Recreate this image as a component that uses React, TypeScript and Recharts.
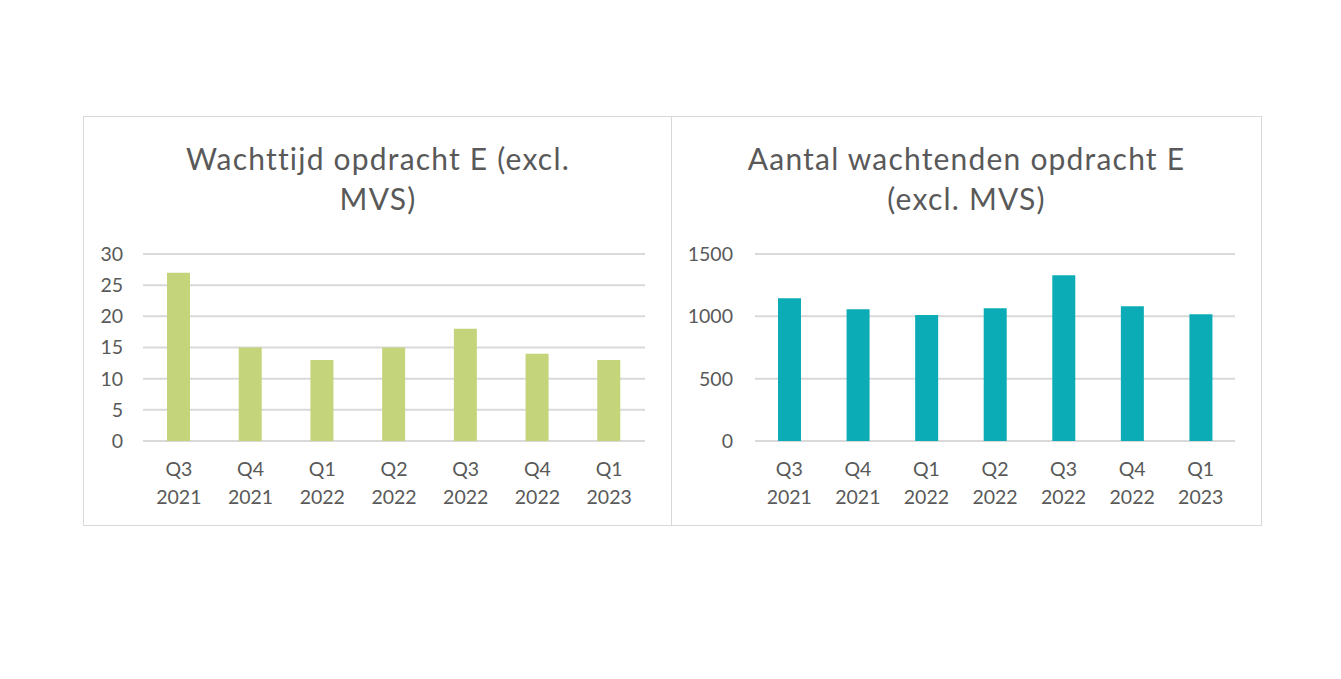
import React from "react";
import { BarChart, Bar, XAxis, YAxis, CartesianGrid } from "recharts";

const quarters = ["Q3", "Q4", "Q1", "Q2", "Q3", "Q4", "Q1"];
const years = ["2021", "2021", "2022", "2022", "2022", "2022", "2023"];

const waitTime = [27, 15, 13, 15, 18, 14, 13];
const waiting = [1145, 1057, 1010, 1065, 1330, 1080, 1017];

const waitTimeTicks = [0, 5, 10, 15, 20, 25, 30];
const waitingTicks = [0, 500, 1000, 1500];

const waitTimeTitle = ["Wachttijd opdracht E (excl.", "MVS)"];
const waitingTitle = ["Aantal wachtenden opdracht E", "(excl. MVS)"];

const FONT = "Lato, 'Open Sans', sans-serif";
const TEXT = "#595959";
const GRID = "#d9d9d9";

const buildRows = (values: number[]) =>
  values.map((value, i) => ({ key: `${quarters[i]} ${years[i]}`, value }));

function QuarterTick(props: any) {
  const { x, y, payload } = props;
  const [q, yr] = String(payload.value).split(" ");
  return (
    <text x={x} y={y} textAnchor="middle" fill={TEXT} fontSize={19.5} fontFamily={FONT}>
      <tspan x={x} dy={27}>{q}</tspan>
      <tspan x={x} dy={28}>{yr}</tspan>
    </text>
  );
}

type PanelProps = {
  left: number;
  width: number;
  title: string[];
  values: number[];
  ticks: number[];
  color: string;
  yWidth: number;
  tickMargin: number;
  marginLeft: number;
  marginRight: number;
};

function Panel(p: PanelProps) {
  const rows = buildRows(p.values);
  return (
    <div
      style={{
        position: "absolute",
        left: p.left,
        top: 116,
        width: p.width,
        height: 410,
        boxSizing: "border-box",
        border: `1.5px solid ${GRID}`,
        background: "#fff",
      }}
    >
      <div
        style={{
          position: "absolute",
          left: 0,
          right: 0,
          top: 21,
          textAlign: "center",
          fontFamily: FONT,
          fontSize: 30,
          letterSpacing: 1.2,
          fontVariantLigatures: "none",
          lineHeight: "40px",
          color: TEXT,
        }}
      >
        {p.title.map((line, i) => (
          <div key={i}>{line}</div>
        ))}
      </div>
      <div style={{ position: "absolute", left: 0, top: 114 }}>
        <BarChart
          width={p.width - 3}
          height={290}
          data={rows}
          margin={{ top: 23, right: p.marginRight, left: p.marginLeft, bottom: 20 }}
          barSize={23}
        >
          <CartesianGrid vertical={false} stroke={GRID} strokeWidth={2} />
          <XAxis
            dataKey="key"
            axisLine={false}
            tickLine={false}
            height={60}
            interval={0}
            tick={<QuarterTick />}
          />
          <YAxis
            domain={[p.ticks[0], p.ticks[p.ticks.length - 1]]}
            ticks={p.ticks}
            axisLine={false}
            tickLine={false}
            width={p.yWidth}
            tickSize={6}
            tickMargin={p.tickMargin}
            tick={{ fill: TEXT, fontSize: 19.5, fontFamily: FONT }}
          />
          <Bar dataKey="value" fill={p.color} isAnimationActive={false} />
        </BarChart>
      </div>
    </div>
  );
}

export default function App() {
  return (
    <div style={{ position: "absolute", left: 0, top: 0, width: 1341, height: 679, background: "#fff" }}>
      <Panel
        left={83}
        width={590}
        title={waitTimeTitle}
        values={waitTime}
        ticks={waitTimeTicks}
        color="#c3d47a"
        yWidth={50}
        tickMargin={14}
        marginLeft={9}
        marginRight={26}
      />
      <Panel
        left={671}
        width={591}
        title={waitingTitle}
        values={waiting}
        ticks={waitingTicks}
        color="#0bacb6"
        yWidth={74}
        tickMargin={16}
        marginLeft={9}
        marginRight={25}
      />
    </div>
  );
}
